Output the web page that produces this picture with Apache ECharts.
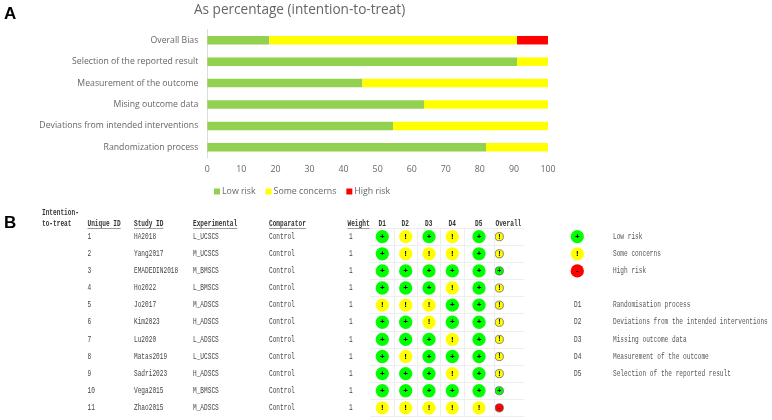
<!DOCTYPE html>
<html>
<head>
<meta charset="utf-8">
<style>html,body{margin:0;padding:0;background:#fff}#c{width:772px;height:420px}</style>
<script src="https://cdn.jsdelivr.net/npm/echarts@6/dist/echarts.min.js"></script>
</head>
<body>
<div id="c"></div>
<script>
// Panel A: share of studies per risk-of-bias domain
const domains = ['Randomization process', 'Deviations from intended interventions', 'Mising outcome data',
  'Measurement of the outcome', 'Selection of the reported result', 'Overall Bias'];
const lowRisk = [81.8, 54.5, 63.6, 45.5, 90.9, 18.2];
const someConcerns = [18.2, 45.5, 36.4, 54.5, 9.1, 72.7];
const highRisk = [0, 0, 0, 0, 0, 9.1];

// Panel B: study table and per-domain judgements
const uniqueIds = ['1', '2', '3', '4', '5', '6', '7', '8', '9', '10', '11'];
const studyIds = ['HA2018', 'Yang2017', 'EMADEDIN2018', 'Ho2022', 'Jo2017', 'Kim2023', 'Lu2020', 'Matas2019', 'Sadri2023', 'Vega2015', 'Zhao2015'];
const experimental = ['L_UCSCS', 'M_UCSCS', 'M_BMSCS', 'L_BMSCS', 'M_ADSCS', 'H_ADSCS', 'L_ADSCS', 'L_UCSCS', 'H_ADSCS', 'M_BMSCS', 'M_ADSCS'];
const comparator = 'Control';
const weight = '1';
const judgements = ['+!+!+', '+!!!+', '+++++', '+++!+', '!!!++', '++!++', '+++!+', '+!+++', '+++!+', '+++++', '!!!!!'];
const overall = ['!', '!', '+', '!', '!', '!', '!', '!', '!', '+', '-'];
const keyLabels = [['+', 'Low risk'], ['!', 'Some concerns'], ['-', 'High risk']];
const domainKey = ['Randomisation process', 'Deviations from the intended interventions', 'Missing outcome data',
  'Measurement of the outcome', 'Selection of the reported result'];
const domainHeads = ['D1', 'D2', 'D3', 'D4', 'D5'];

// Layout of panel B
const markCols = [382.3, 405.7, 429, 452.3, 479, 499.3];
const ruleCols = [394, 417.7, 440.7, 464, 494];
const rowTop = 228.1, rowStep = 17.12;
// The table face is narrow, so a monospace is condensed horizontally
const tableFont = '"Liberation Mono", monospace';
const tableSize = 8.2;
const condense = 0.75;
const charW = tableSize * 0.6 * condense;
const riskColor = { '+': '#00FF00', '!': '#FFFF00', '-': '#FF0000' };

const gray = '#666666';
const chart = echarts.init(document.getElementById('c'), null, { renderer: 'canvas' });

function bar(name, data, color) {
  return { name, type: 'bar', stack: 'all', data, barWidth: 8.5, xAxisIndex: 0, yAxisIndex: 0,
    itemStyle: { color }, silent: true };
}
// Text placed through the table's scales: value = [x, row, string]
function textColumn(items, color) {
  return { type: 'custom', xAxisIndex: 1, yAxisIndex: 1, silent: true, clip: false, data: items,
    renderItem: (params, api) => {
      const p = api.coord([api.value(0), api.value(1)]);
      return { type: 'text', x: p[0], y: p[1], scaleX: condense,
        style: { text: items[params.dataIndex][2], font: `${tableSize}px ${tableFont}`, fill: color || '#444444', verticalAlign: 'middle', align: 'left' } };
    } };
}
const col = (x, values) => values.map((v, i) => [x, i, v]);
function glyph(size) {
  return { show: true, position: 'inside', formatter: p => p.data[2], fontFamily: 'Liberation Sans, sans-serif',
    fontSize: size, fontWeight: 'bold', color: '#000000', textBorderWidth: 0 };
}

const cellData = [];
judgements.forEach((row, r) => row.split('').forEach((j, c) => cellData.push([markCols[c], r, j])));
const overallData = overall.map((j, r) => [markCols[5], r, j]);
const keyData = keyLabels.map((k, r) => [577.3, r, k[0]]);

const header = [
  ['Unique ID', 87.5, true], ['Study ID', 134, true], ['Experimental', 193, true], ['Comparator', 269, true],
  ['Weight', 347.5, true], ['D1', 378.5, true], ['D2', 401.5, true], ['D3', 425, true], ['D4', 448.5, true],
  ['D5', 475, true], ['Overall', 495.5, false]
];
const headText = (t, x, y) => ({ type: 'text', x, y, scaleX: condense,
  style: { text: t, font: `bold ${tableSize}px ${tableFont}`, fill: '#333', verticalAlign: 'middle' } });
const graphics = [
  { type: 'text', left: 4, top: 6, style: { text: 'A', font: 'bold 17px "Liberation Sans"', fill: '#000' } },
  { type: 'text', left: 4, top: 215, style: { text: 'B', font: 'bold 17px "Liberation Sans"', fill: '#000' } },
  headText('Intention-', 42, 213),
  headText('to-treat', 42, 224)
];
header.forEach(([t, x, underline]) => {
  graphics.push(headText(t, x, 224));
  if (underline) graphics.push({ type: 'rect', shape: { x, y: 228, width: t.length * charW, height: 0.7 }, style: { fill: '#777' } });
});

chart.setOption({
  animation: false,
  backgroundColor: '#fff',
  title: { text: 'As percentage (intention-to-treat)', left: 189, top: -2,
    textStyle: { fontFamily: 'Open Sans', fontSize: 13.6, fontWeight: 'normal', color: gray } },
  legend: { data: ['Low risk', 'Some concerns', 'High risk'], left: 209, top: 182, icon: 'rect', itemWidth: 6, itemHeight: 6, itemGap: 10,
    textStyle: { fontFamily: 'Open Sans', fontSize: 8.8, color: gray, padding: [0, 0, 0, -3] } },
  grid: [
    { left: 207.3, top: 29.5, width: 340.7, height: 128.5 },
    { left: 0, top: rowTop, width: 772, height: rowStep * 11 },
    { left: 370, top: rowTop, width: 154, height: rowStep * 11 }
  ],
  xAxis: [
    { type: 'value', gridIndex: 0, min: 0, max: 100, interval: 10, splitLine: { show: false },
      axisLine: { show: false }, axisTick: { show: false },
      axisLabel: { fontFamily: 'Open Sans', fontSize: 8.8, color: gray, margin: 7 } },
    { type: 'value', gridIndex: 1, min: 0, max: 772, show: false },
    { type: 'value', gridIndex: 2, min: 370, max: 524, show: false }
  ],
  yAxis: [
    { type: 'category', gridIndex: 0, data: domains,
      axisLine: { show: true, lineStyle: { color: '#dcdcdc' } }, axisTick: { show: false },
      axisLabel: { fontFamily: 'Open Sans', fontSize: 8.7, color: gray, margin: 9 } },
    { type: 'category', gridIndex: 1, data: uniqueIds, inverse: true, show: false },
    { type: 'category', gridIndex: 2, data: uniqueIds, inverse: true,
      axisLine: { show: false }, axisTick: { show: false }, axisLabel: { show: false },
      splitLine: { show: true, lineStyle: { color: '#eeeeee', width: 1 } } }
  ],
  series: [
    bar('Low risk', lowRisk, '#92D050'),
    bar('Some concerns', someConcerns, '#FFFF00'),
    bar('High risk', highRisk, '#FF0000'),
    textColumn(col(87.5, uniqueIds)),
    textColumn(col(134, studyIds)),
    textColumn(col(193, experimental)),
    textColumn(col(269, uniqueIds.map(() => comparator))),
    textColumn(col(349, uniqueIds.map(() => weight))),
    textColumn(col(613, keyLabels.map(k => k[1])), '#555555'),
    textColumn(domainKey.map((t, i) => [613, i + 4, t]), '#555555'),
    textColumn(domainHeads.map((t, i) => [574, i + 4, t])),
    { type: 'scatter', xAxisIndex: 1, yAxisIndex: 1, symbolSize: 13.3, silent: true, data: keyData,
      itemStyle: { color: p => riskColor[p.data[2]], borderWidth: 0, opacity: 1 }, label: glyph(8) },
    { type: 'scatter', xAxisIndex: 2, yAxisIndex: 2, symbolSize: 13.3, silent: true, data: cellData,
      itemStyle: { color: p => riskColor[p.data[2]], borderWidth: 0, opacity: 1 }, label: glyph(8),
      markLine: { silent: true, symbol: 'none', label: { show: false }, animation: false,
        lineStyle: { color: '#eeeeee', width: 1, type: 'solid' }, data: ruleCols.map(x => ({ xAxis: x })) } },
    { type: 'scatter', xAxisIndex: 2, yAxisIndex: 2, symbolSize: 8.2, silent: true, data: overallData,
      itemStyle: { color: p => riskColor[p.data[2]], opacity: 1, borderColor: '#555555', borderWidth: 0.7 }, label: glyph(7) }
  ],
  graphic: graphics
});
</script>
</body>
</html>
